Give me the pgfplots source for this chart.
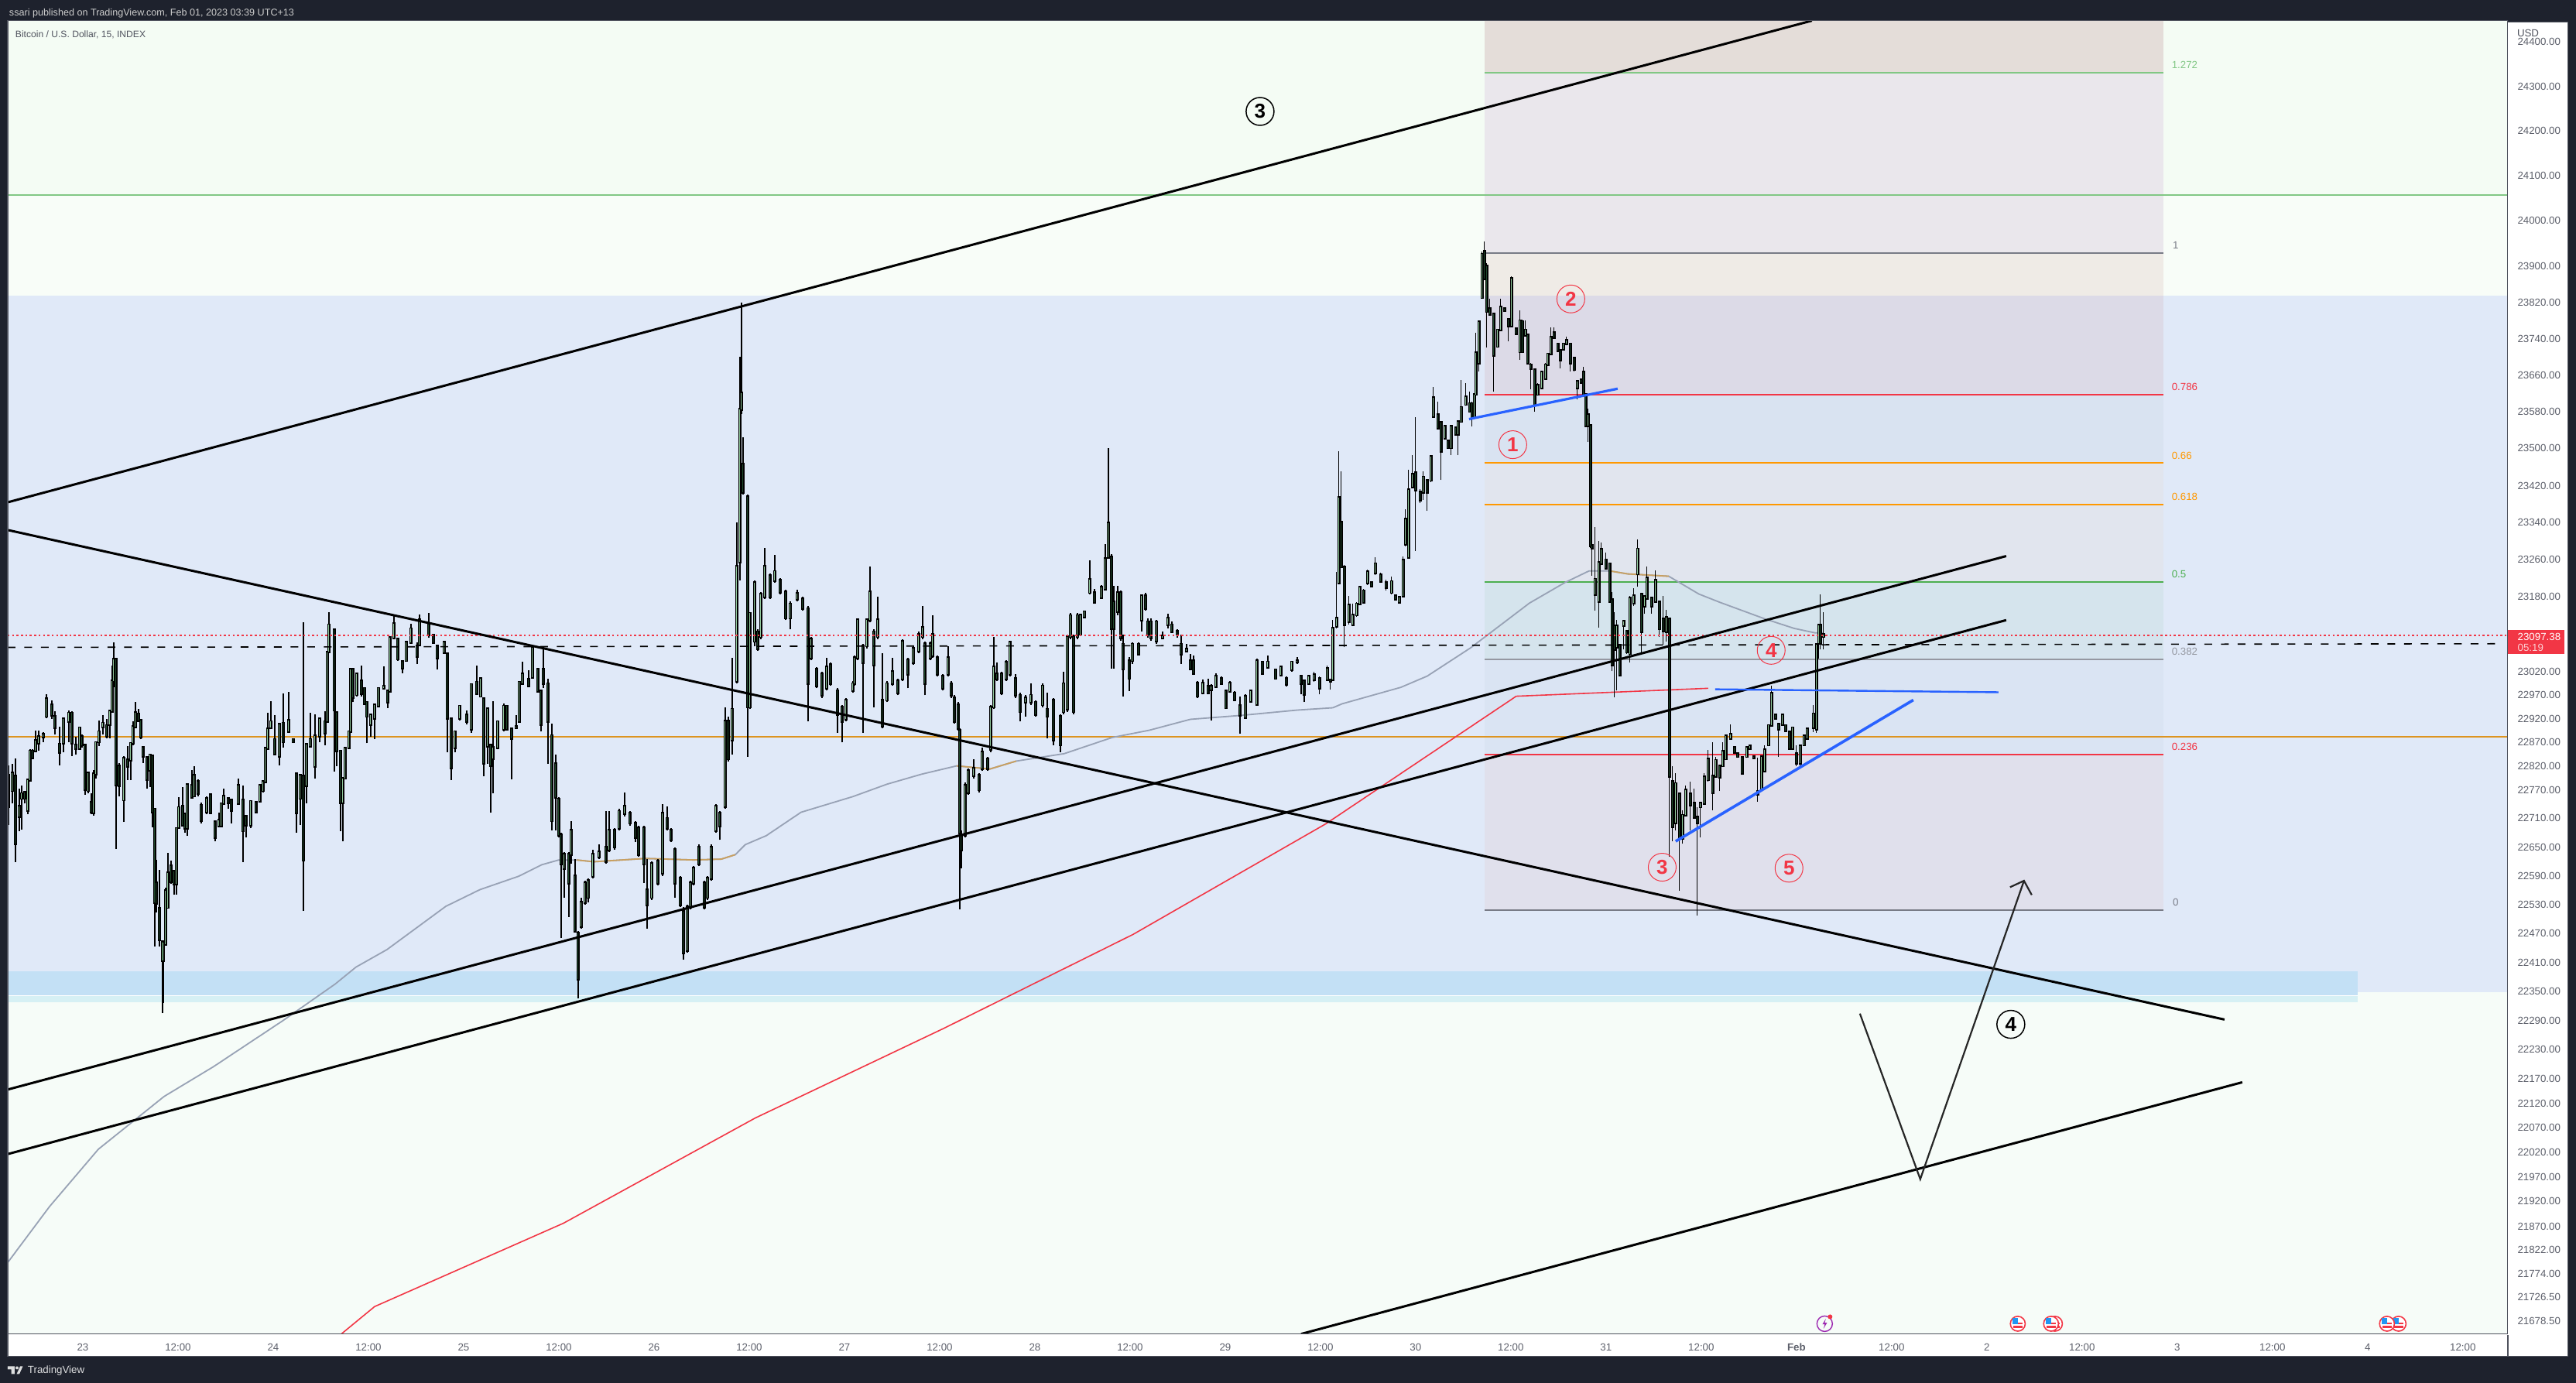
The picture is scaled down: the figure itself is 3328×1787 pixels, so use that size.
\documentclass[border=0pt]{standalone}
\usepackage{fontspec}
\setmainfont{Liberation Sans}
\usepackage{pgfplots}
\usepackage{pgfplotstable}
\pgfplotsset{compat=1.18}

% frame and text
\definecolor{frame}{HTML}{1E222D}
\definecolor{spine}{HTML}{50535E}
\definecolor{ticktext}{HTML}{5D606B}
% background zones
\definecolor{bgtop}{HTML}{F4FCF4}
\definecolor{bgmid}{HTML}{F8FDF8}
\definecolor{bgblue}{HTML}{E0E9F8}
\definecolor{bglow}{HTML}{F6FCF8}
\definecolor{bandA}{HTML}{C3E0F5}
\definecolor{bandB}{HTML}{D6F0F4}
% fib zones
\definecolor{fibA}{HTML}{E4DDD9}
\definecolor{fibB}{HTML}{EAE7EC}
\definecolor{fibC}{HTML}{EFEBE6}
\definecolor{fibD}{HTML}{DCDAE7}
\definecolor{fibE}{HTML}{D9E3F1}
\definecolor{fibF}{HTML}{E1E5EE}
\definecolor{fibG}{HTML}{D5E4ED}
\definecolor{fibH}{HTML}{DAE4F3}
\definecolor{fibI}{HTML}{E0E0EC}
% lines
\definecolor{tvred}{HTML}{F23645}
\definecolor{tvblue}{HTML}{2962FF}
\definecolor{tvorange}{HTML}{FF9800}
\definecolor{tvgreen}{HTML}{4CAF50}
\definecolor{softgreen}{HTML}{81C784}
\definecolor{tvgray}{HTML}{787B86}
\definecolor{softgray}{HTML}{9598A1}
\definecolor{hline}{HTML}{DD9420}
\definecolor{magray}{HTML}{98A2B5}
\definecolor{matan}{HTML}{C9A060}
\definecolor{upbody}{HTML}{8FC79A}
\definecolor{downbody}{HTML}{1F4A2C}
\definecolor{calpurple}{HTML}{9C27B0}
\definecolor{flagblue}{HTML}{2196F3}

% the page is drawn at 0.1pt per reference pixel, a log axis this steep overflows TeX at full size
\newcommand{\lab}{\fontsize{1.33}{1.5}\selectfont}
\newcommand{\wave}{\fontsize{2.6}{2.8}\selectfont\bfseries}
\newcommand{\zone}[5]{\addplot[fill=#1,draw=none] coordinates {(#2,#4)(#3,#4)(#3,#5)(#2,#5)} -- cycle;}
\newcommand{\fibline}[2]{\addplot[#1,line width=0.2pt] coordinates {(1918,#2)(2795,#2)};}
\newcommand{\plotlist}[2]{\addplot[unbounded coords=jump,#2] coordinates {#1};}

\pgfdeclareplotmark{usflag}{%
  \pgfsetlinewidth{0.16pt}\pgfsetstrokecolor{tvred}\pgfsetfillcolor{white}%
  \pgfpathcircle{\pgfpointorigin}{0.96pt}\pgfusepath{fill,stroke}%
  \pgfsetfillcolor{flagblue}\pgfpathrectangle{\pgfpoint{-0.65pt}{-0.1pt}}{\pgfpoint{0.65pt}{0.8pt}}\pgfusepath{fill}%
  \pgfsetfillcolor{tvred}\pgfpathrectangle{\pgfpoint{0pt}{-0.1pt}}{\pgfpoint{0.65pt}{0.25pt}}\pgfusepath{fill}%
  \pgfpathrectangle{\pgfpoint{-0.6pt}{-0.55pt}}{\pgfpoint{1.2pt}{0.25pt}}\pgfusepath{fill}%
}
\pgfdeclareplotmark{calbolt}{%
  \pgfsetlinewidth{0.14pt}\pgfsetstrokecolor{calpurple}%
  \pgfpathcircle{\pgfpointorigin}{1pt}\pgfusepath{stroke}%
  \pgfsetfillcolor{calpurple}%
  \pgfpathmoveto{\pgfpoint{0.15pt}{0.65pt}}\pgfpathlineto{\pgfpoint{-0.3pt}{-0.08pt}}\pgfpathlineto{\pgfpoint{0pt}{-0.08pt}}%
  \pgfpathlineto{\pgfpoint{-0.15pt}{-0.65pt}}\pgfpathlineto{\pgfpoint{0.3pt}{0.12pt}}\pgfpathlineto{\pgfpoint{0pt}{0.12pt}}\pgfpathclose\pgfusepath{fill}%
  \pgfsetfillcolor{tvred}\pgfpathcircle{\pgfpoint{0.7pt}{0.9pt}}{0.3pt}\pgfusepath{fill}%
}

% x is the position along the time scale, one day = 246 units, 15 min candles
% x low high open close
\pgfplotstableread{
x lo hi o c
11 22697 22822 22800 22735
16 22741 22825 22768 22806
20 22619 22836 22798 22657
25 22684 22773 22714 22735
28 22687 22779 22752 22762
32 22741 22768 22765 22752
36 22719 22790 22727 22790
39 22787 22855 22790 22852
42 22836 22855 22852 22838
46 22849 22895 22852 22874
50 22852 22895 22868 22882
56 22871 22892 22882 22887
60 22922 22973 22925 22963
67 22920 22960 22949 22928
71 22887 22936 22925 22901
77 22822 22903 22867 22849
82 22849 22922 22868 22920
89 22871 22939 22914 22932
93 22841 22936 22932 22868
98 22844 22882 22865 22857
103 22855 22903 22857 22901
106 22860 22887 22882 22865
110 22760 22865 22865 22771
114 22762 22809 22768 22806
118 22719 22762 22743 22724
121 22716 22811 22722 22803
124 22795 22871 22803 22870
128 22863 22917 22871 22893
133 22887 22928 22903 22911
138 22879 22920 22906 22884
142 22879 22939 22909 22936
145 22936 23033 22936 23001
147 22987 23082 23001 23047
150 22646 23050 23047 22781
154 22757 22827 22819 22779
160 22703 22841 22749 22836
165 22790 22863 22833 22819
169 22790 22871 22833 22868
172 22865 22914 22868 22903
175 22901 22956 22903 22933
179 22914 22941 22931 22917
182 22876 22917 22917 22882
185 22827 22863 22860 22841
190 22773 22841 22838 22792
194 22776 22846 22811 22844
197 22692 22844 22841 22724
200 22443 22730 22730 22535
202 22513 22624 22575 22532
206 22443 22603 22521 22456
210 22305 22453 22453 22413
211 22326 22453 22413 22451
214 22445 22565 22448 22559
217 22524 22638 22524 22597
221 22573 22622 22611 22578
225 22551 22603 22600 22573
228 22551 22689 22573 22689
231 22689 22754 22692 22733
236 22695 22776 22735 22697
239 22681 22722 22719 22689
242 22673 22781 22689 22781
248 22752 22811 22779 22754
251 22757 22819 22757 22800
256 22757 22792 22787 22762
260 22700 22743 22738 22706
267 22719 22757 22724 22752
272 22719 22762 22760 22722
278 22662 22706 22703 22670
283 22692 22722 22695 22706
286 22692 22743 22695 22741
289 22738 22773 22741 22757
295 22730 22754 22752 22743
299 22700 22752 22749 22727
308 22741 22795 22741 22779
314 22619 22779 22749 22684
318 22670 22714 22714 22697
324 22689 22749 22697 22746
331 22722 22746 22743 22724
336 22743 22781 22746 22779
340 22765 22790 22768 22787
343 22784 22860 22787 22857
346 22855 22933 22857 22898
350 22898 22958 22901 22914
355 22844 22928 22876 22846
361 22822 22911 22841 22909
366 22860 22974 22911 22871
373 22890 22977 22893 22917
379 22868 22879 22876 22871
383 22681 22806 22803 22722
388 22697 22800 22752 22800
392 22517 23126 22798 22622
396 22741 22866 22779 22866
401 22863 22933 22863 22876
407 22795 22930 22819 22884
413 22871 22922 22884 22920
420 22865 22936 22914 22890
423 22912 23063 22914 23061
425 23060 23147 23063 23120
432 22809 23109 23109 22939
435 22819 22933 22933 22852
440 22684 22852 22852 22743
443 22662 22795 22743 22795
446 22795 22860 22795 22857
451 22860 22893 22860 22893
453 22893 23028 22893 23025
456 22955 23025 23025 22966
461 22968 23018 22971 23016
467 22968 23033 23001 22974
471 22949 22987 22985 22952
474 22868 22955 22955 22925
479 22882 22928 22909 22928
484 22876 22949 22922 22949
489 22947 22987 22947 22985
496 22982 23031 22985 22989
501 22944 22979 22979 22955
504 22979 23096 22979 23093
509 23093 23140 23093 23123
514 23044 23093 23090 23047
520 23017 23044 23042 23028
525 23042 23085 23044 23082
531 23080 23123 23082 23112
539 23036 23082 23074 23052
542 23074 23142 23077 23131
554 23093 23145 23120 23098
560 23080 23101 23098 23082
565 23025 23077 23074 23050
574 23058 23085 23061 23082
578 22849 23061 23058 22922
583 22790 22922 22920 22817
588 22849 22895 22860 22893
594 22917 22949 22922 22947
603 22909 22939 22928 22914
609 22890 22995 22898 22993
616 22971 23033 22998 22974
621 22966 23009 22968 23006
625 22798 22966 22963 22827
630 22825 22944 22863 22941
634 22722 22865 22865 22822
637 22762 22958 22836 22860
643 22855 22917 22860 22914
651 22893 22952 22898 22947
655 22895 22949 22947 22898
661 22792 22901 22898 22879
667 22898 22928 22901 22903
671 22914 23001 22914 22998
675 22993 23042 22995 23016
683 22990 23023 23004 22990
688 23009 23071 23009 23071
695 22977 23028 23025 22979
699 22893 22982 22979 22909
702 22985 23075 23025 22995
708 22825 23005 22995 22915
713 22685 22910 22885 22705
718 22685 22845 22825 22755
722 22670 22755 22750 22675
725 22460 22680 22675 22615
729 22545 22640 22605 22635
735 22505 22640 22635 22575
738 22615 22705 22635 22685
743 22475 22625 22590 22475
747 22335 22475 22470 22376
751 22480 22545 22485 22535
756 22530 22580 22535 22575
760 22535 22585 22545 22580
766 22585 22645 22590 22635
774 22625 22655 22630 22640
783 22615 22725 22650 22620
787 22640 22725 22645 22685
794 22645 22690 22685 22650
800 22685 22730 22690 22725
807 22715 22765 22720 22735
814 22695 22725 22720 22700
821 22660 22705 22700 22670
825 22630 22695 22690 22635
832 22575 22695 22690 22615
836 22480 22625 22560 22530
842 22540 22620 22545 22615
850 22570 22625 22620 22575
856 22590 22740 22595 22720
862 22685 22735 22710 22690
867 22660 22690 22685 22665
872 22545 22650 22645 22575
879 22525 22590 22585 22530
883 22415 22525 22515 22430
888 22430 22530 22435 22525
892 22520 22580 22525 22575
896 22570 22610 22575 22605
903 22610 22655 22650 22615
910 22520 22580 22575 22525
914 22540 22590 22545 22585
919 22580 22655 22585 22650
925 22680 22740 22685 22735
930 22665 22725 22720 22695
937 22730 22945 22735 22915
941 22830 22925 22915 22835
946 22845 23050 22875 22940
952 22995 23340 23000 23245
956 23215 23700 23255 23585
958 23575 23820 23585 23620
960 23400 23525 23465 23405
966 22840 23400 23395 22945
969 22940 23145 22945 23145
975 23075 23215 23085 23210
979 23065 23110 23105 23070
983 23090 23190 23095 23185
988 23175 23285 23180 23245
995 23175 23230 23225 23180
1001 23210 23270 23215 23235
1008 23185 23220 23215 23190
1015 23130 23195 23190 23135
1021 23110 23170 23135 23165
1030 23170 23195 23175 23187
1037 23150 23180 23175 23155
1044 22915 23160 23155 22995
1048 23045 23095 23050 23090
1055 22985 23030 23025 22990
1062 22965 23020 23015 22970
1068 22980 23050 22985 23030
1073 22990 23040 23035 22995
1082 22890 22985 22980 22930
1088 22870 22950 22945 22915
1093 22915 22965 22920 22960
1102 22975 23000 22980 22995
1104 22990 23055 22995 23050
1108 23045 23135 23050 23130
1115 22890 23080 23075 23040
1120 23070 23135 23075 23130
1124 23125 23245 23130 23190
1129 22945 23110 23105 23035
1134 23090 23180 23095 23130
1140 22900 23060 22960 22905
1146 22955 23000 22960 22995
1153 22990 23050 22995 23020
1160 22970 23005 23000 22975
1166 23000 23090 23005 23085
1173 22985 23050 23045 23015
1180 23035 23075 23040 23070
1187 23060 23105 23065 23100
1192 23090 23160 23095 23115
1195 22970 23085 23080 22995
1202 23045 23085 23050 23080
1205 23050 23140 23055 23100
1211 23010 23055 23050 23015
1218 22980 23015 23010 22985
1225 23010 23075 23015 23050
1229 22965 23000 22995 22970
1233 22910 22970 22965 22915
1238 22895 22955 22950 22900
1240 22520 22900 22895 22680
1242 22605 22685 22675 22645
1247 22670 22785 22675 22780
1251 22760 22815 22765 22810
1258 22795 22835 22800 22815
1265 22765 22805 22800 22770
1269 22810 22860 22815 22850
1276 22810 22840 22835 22815
1280 22850 22950 22855 22945
1284 22940 23095 22945 23030
1288 23000 23040 23015 23005
1294 22970 23020 23015 22975
1300 23000 23045 23005 23040
1305 23010 23085 23015 23083
1312 22965 23015 23005 22970
1318 22915 22975 22970 22935
1325 22925 22970 22955 22965
1332 22950 22995 22955 22970
1338 22925 22960 22955 22930
1347 22945 22995 22950 22990
1353 22880 22975 22940 22925
1361 22865 22965 22960 22875
1370 22850 22930 22925 22865
1374 22930 23020 22935 22995
1379 22935 23100 22940 23095
1383 23090 23145 23095 23140
1387 22930 23100 23095 22935
1392 23090 23145 23095 23140
1396 23096 23144 23100 23141
1401 23134 23151 23137 23148
1408 23186 23258 23189 23217
1414 23165 23196 23189 23169
1423 23175 23206 23179 23200
1428 23193 23293 23196 23262
1432 23262 23500 23265 23338
1436 23027 23272 23265 23113
1439 23027 23203 23169 23113
1444 23141 23203 23148 23189
1448 23086 23193 23189 23093
1451 22968 23100 23079 23027
1459 22979 23051 23044 23006
1463 23037 23082 23044 23079
1471 23055 23082 23079 23058
1475 23106 23186 23131 23182
1480 23151 23189 23182 23155
1483 23093 23134 23127 23100
1487 23086 23134 23127 23093
1494 23079 23131 23086 23127
1502 23089 23106 23093 23096
1509 23113 23144 23120 23134
1514 23103 23127 23120 23106
1521 23093 23110 23106 23100
1526 23037 23100 23079 23058
1533 23062 23079 23065 23068
1538 23024 23058 23044 23027
1542 23013 23055 23044 23017
1547 22965 23000 22996 22968
1554 22972 23003 22975 22996
1561 22972 23006 22989 22975
1565 22917 22993 22982 22989
1571 22986 23017 22989 23010
1578 22993 23010 23006 22996
1584 22941 22982 22979 22944
1589 22975 23000 22979 22996
1595 22958 22979 22975 22961
1602 22889 22968 22948 22927
1609 22920 22972 22923 22968
1616 22955 22982 22958 22979
1624 22948 23048 22951 23044
1631 23013 23044 23041 23017
1638 23027 23055 23030 23041
1648 23003 23027 23024 23006
1655 23010 23034 23013 23030
1662 22989 23010 23006 22993
1669 23020 23044 23024 23041
1676 23037 23051 23041 23044
1681 22972 23013 23010 22996
1685 22955 23003 23000 22972
1691 22993 23013 22996 23010
1698 22999 23020 23003 23013
1705 22972 23010 23006 22986
1715 23000 23034 23003 23027
1719 22982 23006 23003 23000
1722 23000 23131 23003 23113
1727 23113 23234 23117 23134
1730 23210 23494 23210 23393
1733 23244 23451 23341 23244
1737 23072 23248 23244 23120
1743 23120 23182 23127 23162
1748 23117 23165 23120 23141
1753 23137 23169 23141 23165
1757 23162 23203 23165 23200
1762 23165 23196 23193 23169
1767 23206 23238 23210 23234
1772 23203 23213 23210 23204
1777 23227 23265 23231 23251
1784 23210 23231 23227 23213
1791 23193 23217 23210 23200
1798 23186 23224 23189 23213
1803 23172 23186 23182 23175
1808 23165 23182 23169 23179
1813 23179 23268 23182 23258
1816 23289 23369 23293 23348
1820 23265 23455 23265 23410
1825 23414 23486 23417 23445
1829 23279 23569 23448 23410
1835 23382 23413 23406 23389
1839 23389 23451 23406 23438
1844 23365 23434 23431 23406
1849 23427 23486 23431 23482
1852 23567 23635 23570 23610
1858 23542 23601 23573 23545
1862 23432 23559 23556 23494
1867 23519 23551 23522 23548
1871 23499 23519 23516 23502
1875 23485 23551 23502 23548
1881 23528 23548 23545 23531
1884 23485 23562 23531 23559
1888 23556 23649 23559 23590
1894 23593 23643 23596 23612
1899 23579 23624 23598 23581
1902 23548 23601 23598 23567
1905 23565 23618 23567 23618
1907 23615 23754 23618 23709
1911 23669 23779 23686 23776
1915 23827 23932 23830 23926
1918 23870 23954 23932 23872
1921 23720 23906 23900 23799
1925 23790 23827 23805 23793
1930 23624 23796 23794 23703
1935 23720 23762 23723 23759
1939 23757 23827 23759 23810
1944 23799 23810 23805 23802
1949 23734 23785 23782 23768
1953 23765 23877 23768 23872
1959 23748 23765 23762 23751
1964 23694 23802 23711 23779
1967 23709 23782 23777 23711
1971 23745 23779 23748 23759
1974 23683 23751 23748 23686
1978 23629 23686 23683 23675
1983 23581 23675 23672 23596
1987 23615 23641 23618 23638
1992 23629 23669 23632 23666
1997 23649 23686 23652 23683
2000 23680 23709 23683 23706
2004 23703 23765 23706 23742
2008 23740 23765 23754 23742
2013 23711 23731 23728 23714
2016 23675 23717 23714 23694
2020 23714 23731 23717 23728
2024 23725 23744 23728 23735
2029 23669 23731 23728 23686
2034 23669 23700 23697 23672
2038 23607 23649 23632 23646
2043 23641 23652 23649 23644
2046 23612 23678 23666 23615
2049 23548 23618 23618 23550
2052 23514 23587 23550 23573
2055 23285 23553 23550 23290
2057 23225 23353 23290 23285
2061 23150 23330 23185 23218
2066 23114 23300 23171 23253
2069 23248 23297 23251 23282
2075 23240 23275 23259 23242
2080 23171 23253 23251 23171
2083 23021 23190 23174 23035
2086 22966 23147 23117 23067
2089 22980 23130 23073 23117
2093 23010 23078 23076 23013
2098 23067 23130 23119 23128
2102 23059 23108 23106 23062
2106 23040 23182 23059 23177
2111 23160 23199 23166 23182
2116 23201 23303 23229 23283
2121 23056 23188 23185 23106
2125 23144 23182 23160 23180
2128 23174 23245 23177 23221
2134 23144 23180 23177 23160
2139 23169 23237 23171 23215
2144 23095 23171 23169 23111
2149 23078 23182 23133 23108
2153 23084 23152 23106 23136
2157 22630 23136 23133 22799
2161 22663 22819 22788 22693
2165 22685 22805 22701 22783
2170 22559 22764 22761 22668
2174 22657 22728 22668 22717
2178 22715 22780 22717 22769
2184 22685 22788 22761 22739
2189 22709 22772 22742 22712
2193 22507 22734 22712 22701
2197 22671 22745 22734 22742
2202 22739 22805 22742 22797
2207 22788 22854 22791 22835
2213 22728 22870 22799 22764
2217 22797 22840 22799 22832
2222 22767 22824 22821 22797
2226 22819 22870 22821 22851
2230 22832 22887 22835 22884
2236 22876 22909 22879 22887
2241 22846 22862 22860 22849
2245 22838 22849 22846 22840
2251 22802 22840 22838 22805
2257 22838 22862 22840 22860
2261 22854 22865 22857 22862
2266 22835 22843 22840 22838
2271 22745 22838 22767 22761
2276 22769 22843 22772 22840
2280 22808 22865 22810 22854
2285 22862 22909 22865 22906
2289 22903 22991 22906 22974
2294 22920 22931 22928 22922
2298 22840 22912 22909 22898
2303 22906 22931 22909 22928
2307 22892 22909 22906 22895
2312 22854 22895 22892 22857
2316 22854 22903 22857 22901
2321 22821 22865 22846 22827
2326 22819 22865 22827 22862
2331 22862 22887 22865 22884
2335 22876 22901 22879 22898
2343 22892 22950 22901 22931
2347 22890 23081 22898 23078
2350 23048 23122 23081 23119
2352 23067 23185 23119 23081
2356 23067 23147 23095 23100
}\candles

% turn the table into segment lists: wicks, bodies, and the up and down fills
\pgfplotstablegetrowsof{\candles}
\pgfmathtruncatemacro{\lastrow}{\pgfplotsretval-1}
\def\wicks{}\def\bodies{}\def\ups{}\def\downs{}
\pgfplotsforeachungrouped \i in {0,...,\lastrow}{%
  \pgfplotstablegetelem{\i}{x}\of\candles\let\vx\pgfplotsretval
  \pgfplotstablegetelem{\i}{lo}\of\candles\let\vl\pgfplotsretval
  \pgfplotstablegetelem{\i}{hi}\of\candles\let\vh\pgfplotsretval
  \pgfplotstablegetelem{\i}{o}\of\candles\let\vo\pgfplotsretval
  \pgfplotstablegetelem{\i}{c}\of\candles\let\vc\pgfplotsretval
  \xdef\wicks{\wicks(\vx,\vl)(\vx,\vh)(\vx,nan)}%
  \xdef\bodies{\bodies(\vx,\vo)(\vx,\vc)(\vx,nan)}%
  \ifnum\vc>\vo\relax
    \xdef\ups{\ups(\vx,\vo)(\vx,\vc)(\vx,nan)}%
  \else
    \xdef\downs{\downs(\vx,\vo)(\vx,\vc)(\vx,nan)}%
  \fi
}

\begin{document}
\begin{tikzpicture}[x=0.1pt,y=0.1pt]
% dark page frame, coordinates in reference pixels, origin at the lower left of the plot box
\fill[frame,use as bounding box] (-10,-61.5) rectangle (3318,1725.5);
\fill[white,draw=spine,line width=0.12pt] (0,-27) rectangle (3307.5,1697);
\draw[spine,line width=0.12pt] (3230,-27) -- (3230,0);

\begin{axis}[
    at={(0,0)},
    anchor=south west,
    scale only axis,
    width=323pt,
    height=169.7pt,
    xmin=10, xmax=3240,
    ymode=log,
    ymin=21653.6, ymax=24448,
    clip mode=individual,
    axis on top,
    axis line style={spine,line width=0.12pt},
    major tick length=0pt,
    minor tick num=0,
    log ticks with fixed point,
    ytick pos=right,
    yticklabel pos=right,
    ytick={24400,24300,24200,24100,24000,23900,23820,23740,23660,23580,23500,23420,23340,23260,23180,23020,22970,22920,22870,22820,22770,22710,22650,22590,22530,22470,22410,22350,22290,22230,22170,22120,22070,22020,21970,21920,21870,21822,21774,21726.5,21678.5},
    yticklabels={24400.00,24300.00,24200.00,24100.00,24000.00,23900.00,23820.00,23740.00,23660.00,23580.00,23500.00,23420.00,23340.00,23260.00,23180.00,23020.00,22970.00,22920.00,22870.00,22820.00,22770.00,22710.00,22650.00,22590.00,22530.00,22470.00,22410.00,22350.00,22290.00,22230.00,22170.00,22120.00,22070.00,22020.00,21970.00,21920.00,21870.00,21822.00,21774.00,21726.50,21678.50},
    yticklabel style={anchor=west,inner sep=0pt,text=ticktext,font=\lab},
    yticklabel shift=1.07pt,
    xtick={107,230,353,476,599,722,845,968,1091,1214,1337,1460,1583,1706,1829,1952,2075,2198,2321,2444,2567,2690,2813,2936,3059,3182},
    xticklabels={23,12:00,24,12:00,25,12:00,26,12:00,27,12:00,28,12:00,29,12:00,30,12:00,31,12:00,\textbf{Feb},12:00,2,12:00,3,12:00,4,12:00},
    xticklabel style={anchor=north,inner sep=0pt,text=ticktext,font=\lab},
    xticklabel shift=1pt,
]
% background zones
\zone{bgtop}{10}{3240}{24448}{24057}
\zone{bgmid}{10}{3240}{24057}{23835}
\zone{bgblue}{10}{3240}{23835}{22349}
\zone{bglow}{10}{3240}{22349}{21653.6}
\zone{bandA}{10}{3046}{22391}{22341}
\zone{bandB}{10}{3046}{22341}{22327}
\addplot[white,line width=0.1pt] coordinates {(10,22341)(3046,22341)};
% fib retracement zones
\zone{fibA}{1918}{2795}{24448}{24330}
\zone{fibB}{1918}{2795}{24330}{23929}
\zone{fibC}{1918}{2795}{23929}{23835}
\zone{fibD}{1918}{2795}{23835}{23616}
\zone{fibE}{1918}{2795}{23616}{23468}
\zone{fibF}{1918}{2795}{23468}{23212}
\zone{fibG}{1918}{2795}{23212}{23047}
\zone{fibH}{1918}{2795}{23047}{22844}
\zone{fibI}{1918}{2795}{22844}{22518}
% long horizontals
\addplot[softgreen,line width=0.2pt] coordinates {(10,24057)(3240,24057)};
\addplot[hline,line width=0.24pt] coordinates {(10,22882)(3240,22882)};
% fib levels
\fibline{softgreen}{24330}
\fibline{tvgray}{23929}
\fibline{tvred}{23616}
\fibline{tvorange}{23468}
\fibline{tvorange}{23379}
\fibline{tvgreen}{23212}
\fibline{softgray}{23047}
\fibline{tvred}{22844}
\fibline{tvgray}{22518}
% moving averages
\addplot[magray,line width=0.18pt] coordinates {
(10,21797)(64,21910)(127,22026)(212,22134)(276,22195)(366,22290)(433,22365)(460,22400)
(500,22436)(576,22526)(620,22561)(670,22589)(700,22613)(722,22623)(745,22623)(767,22619)
(834,22626)(896,22623)(932,22625)(950,22634)(963,22655)(990,22674)(1035,22723)(1102,22756)
(1146,22782)(1191,22803)(1236,22821)(1279,22814)(1313,22831)(1375,22846)(1437,22881)
(1485,22896)(1538,22919)(1604,22927)(1676,22939)(1722,22944)(1734,22952)(1810,22987)
(1844,23011)(1900,23071)(1976,23166)(2022,23211)(2053,23236)(2080,23236)(2103,23229)
(2156,23224)(2195,23186)(2222,23168)(2280,23133)(2318,23113)(2345,23103)(2356,23103)};
\addplot[matan,line width=0.18pt] coordinates {(745,22623)(767,22619)(834,22626)(896,22623)(932,22625)(950,22634)};
\addplot[matan,line width=0.18pt] coordinates {(1236,22821)(1279,22814)(1313,22831)};
\addplot[matan,line width=0.18pt] coordinates {(2080,23236)(2103,23229)(2156,23224)};
\addplot[tvred,line width=0.16pt] coordinates {
(441,21653.6)(484,21708)(728,21876)(976,22090)(1220,22274)(1464,22468)(1713,22699)(1959,22968)(2207,22985)};
% candles: wicks, then bodies
\expandafter\plotlist\expandafter{\wicks}{black,line width=0.12pt}
\expandafter\plotlist\expandafter{\bodies}{black,line width=0.36pt,line cap=rect}
\expandafter\plotlist\expandafter{\ups}{upbody,line width=0.1pt}
\expandafter\plotlist\expandafter{\downs}{downbody,line width=0.1pt}
% last price and dashed level
\addplot[tvred,line width=0.17pt,dash pattern=on 0.25pt off 0.32pt] coordinates {(10,23097.38)(3240,23097.38)};
\addplot[black,line width=0.16pt,dash pattern=on 1pt off 1.15pt] coordinates {(10,23072)(3232,23080)};
% trend lines
\addplot[black,line width=0.3pt] coordinates {(10,23384)(2341,24448)};
\addplot[black,line width=0.3pt] coordinates {(10,23323)(2874,22292)};
\addplot[black,line width=0.3pt] coordinates {(10,22148)(2592,23268)};
\addplot[black,line width=0.3pt] coordinates {(10,22016)(2592,23130)};
\addplot[black,line width=0.3pt] coordinates {(1681,21653.6)(2897,22163)};
\addplot[tvblue,line width=0.32pt] coordinates {(1898,23564)(2090,23630)};
\addplot[tvblue,line width=0.24pt] coordinates {(2216,22983)(2582,22976)};
\addplot[tvblue,line width=0.36pt] coordinates {(2165,22662)(2472,22960)};
\addplot[black!85,line width=0.22pt] coordinates {(2403,22304)(2481,21965)(2615,22580)};
\addplot[black!85,line width=0.22pt] coordinates {(2597,22566)(2615,22580)(2625,22550)};
% calendar icons
\addplot[only marks,mark=usflag] coordinates {(2607,21674)(2655,21674)(2650,21674)(3099,21674)(3084,21674)};
\addplot[only marks,mark=calbolt] coordinates {(2357.5,21674)};
% fib labels
\node[anchor=west,inner sep=0pt,text=softgreen,yshift=1pt,font=\lab] at (axis cs:2804,24330) {1.272};
\node[anchor=west,inner sep=0pt,text=tvgray,yshift=1pt,font=\lab] at (axis cs:2804,23929) {1};
\node[anchor=west,inner sep=0pt,text=tvred,yshift=1pt,font=\lab] at (axis cs:2804,23616) {0.786};
\node[anchor=west,inner sep=0pt,text=tvorange,yshift=1pt,font=\lab] at (axis cs:2804,23468) {0.66};
\node[anchor=west,inner sep=0pt,text=tvorange,yshift=1pt,font=\lab] at (axis cs:2804,23379) {0.618};
\node[anchor=west,inner sep=0pt,text=tvgreen,yshift=1pt,font=\lab] at (axis cs:2804,23212) {0.5};
\node[anchor=west,inner sep=0pt,text=softgray,yshift=1pt,font=\lab] at (axis cs:2804,23047) {0.382};
\node[anchor=west,inner sep=0pt,text=tvred,yshift=1pt,font=\lab] at (axis cs:2804,22844) {0.236};
\node[anchor=west,inner sep=0pt,text=tvgray,yshift=1pt,font=\lab] at (axis cs:2804,22518) {0};
% wave counts
\node[circle,draw=black,line width=0.15pt,minimum size=3.6pt,inner sep=0pt,font=\wave] at (axis cs:1628,24244) {3};
\node[circle,draw=black,line width=0.15pt,minimum size=3.6pt,inner sep=0pt,font=\wave] at (axis cs:2598,22282) {4};
\node[circle,draw=tvred,text=tvred,line width=0.1pt,minimum size=3.6pt,inner sep=0pt,font=\wave] at (axis cs:1954.5,23508) {1};
\node[circle,draw=tvred,text=tvred,line width=0.1pt,minimum size=3.6pt,inner sep=0pt,font=\wave] at (axis cs:2029.5,23827) {2};
\node[circle,draw=tvred,text=tvred,line width=0.1pt,minimum size=3.6pt,inner sep=0pt,font=\wave] at (axis cs:2147.6,22608) {3};
\node[circle,draw=tvred,text=tvred,line width=0.1pt,minimum size=3.6pt,inner sep=0pt,font=\wave] at (axis cs:2288.4,23066) {4};
\node[circle,draw=tvred,text=tvred,line width=0.1pt,minimum size=3.6pt,inner sep=0pt,font=\wave] at (axis cs:2311.4,22606) {5};
\end{axis}

% header, footer and price tag
\node[anchor=west,inner sep=0pt,text=black!20,font=\fontsize{1.26}{1.5}\selectfont] at (0,1708.5) {ssari published on TradingView.com, Feb 01, 2023 03:39 UTC+13};
\node[anchor=west,inner sep=0pt,text=spine,font=\fontsize{1.21}{1.5}\selectfont] at (8,1681) {Bitcoin / U.S. Dollar, 15, INDEX};
\node[anchor=west,inner sep=0pt,text=spine,font=\lab] at (3240,1683) {USD};
\fill[tvred] (3230,880.3) rectangle (3303,911);
\node[anchor=west,inner sep=0pt,text=white,font=\lab] at (3240.7,902.5) {23097.38};
\node[anchor=west,inner sep=0pt,text=white!75!tvred,font=\lab] at (3240.7,888.4) {05:19};
% tradingview logo and name
\fill[white!85!frame] (0,-40) -- (9,-40) -- (9,-50) -- (4.6,-50) -- (4.6,-44) -- (0,-44) -- cycle;
\fill[white!85!frame] (12,-42) circle (2);
\fill[white!85!frame] (16,-40) -- (19.5,-40) -- (15,-50) -- (11.5,-50) -- cycle;
\node[anchor=west,inner sep=0pt,text=white!85!frame,font=\lab] at (24,-46) {TradingView};
\end{tikzpicture}
\end{document}
